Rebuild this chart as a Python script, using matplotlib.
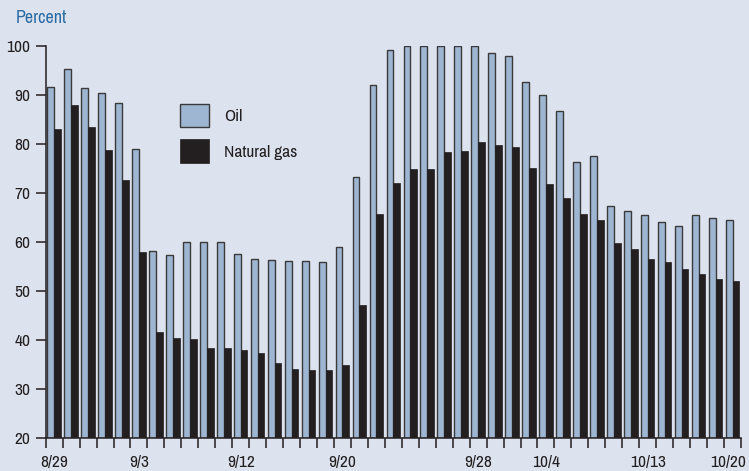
import numpy as np
import matplotlib.pyplot as plt
import matplotlib.transforms as mtransforms
from matplotlib.ticker import FixedLocator

plt.rcParams['font.family'] = ['Archivo Narrow', 'DejaVu Sans']

# share of Gulf production shut in, daily readings
oil = [91.6, 95.2, 91.4, 90.4, 88.4, 79.0, 58.2, 57.4, 60.1, 59.9,
       59.9, 57.5, 56.5, 56.3, 56.2, 56.1, 55.9, 59.0, 73.2, 91.9,
       99.1, 100.0, 100.0, 100.0, 100.0, 100.0, 98.6, 97.8, 92.7, 90.0,
       86.6, 76.2, 77.5, 67.4, 66.4, 65.4, 64.0, 63.2, 65.4, 64.8, 64.5]
gas = [83.0, 87.9, 83.4, 78.8, 72.6, 58.0, 41.6, 40.5, 40.3, 38.4,
       38.4, 38.0, 37.4, 35.4, 34.2, 34.0, 34.0, 35.0, 47.2, 65.7,
       72.0, 74.9, 74.9, 78.4, 78.6, 80.4, 79.8, 79.4, 75.1, 71.8,
       69.0, 65.7, 64.5, 59.8, 58.6, 56.6, 55.9, 54.5, 53.5, 52.5, 52.1]
label_pos = [0, 5, 11, 17, 25, 29, 35, 40]
date_labels = ['8/29', '9/3', '9/12', '9/20', '9/28', '10/4', '10/13', '10/20']

bg = '#dce3ee'
ink = '#231f20'

fig = plt.figure(figsize=(7.49, 4.71), dpi=100)
fig.patch.set_facecolor(bg)
ax = fig.add_axes([0.061, 0.0694, 0.9283, 0.8336])
ax.set_facecolor(bg)

x = np.arange(len(oil))
b1 = ax.bar(x - 0.2, np.array(oil) - 20, bottom=20, width=0.4, color='#9fb6d3',
            edgecolor='#3a3a3a', linewidth=1.0, label='Oil')
b2 = ax.bar(x + 0.2, np.array(gas) - 20, bottom=20, width=0.4, color=ink,
            edgecolor=ink, linewidth=0.5, label='Natural gas')

ax.set_xlim(-0.5, len(oil) - 0.5)
ax.set_ylim(20, 100)
ax.set_yticks([20, 30, 40, 50, 60, 70, 80, 90, 100])
ax.set_xticks(label_pos)
ax.set_xticklabels(date_labels)
ax.xaxis.set_minor_locator(FixedLocator(np.arange(-0.5, len(oil), 1.0)))

for s in ['top', 'right']:
    ax.spines[s].set_visible(False)
for s in ['left', 'bottom']:
    ax.spines[s].set_color(ink)
    ax.spines[s].set_linewidth(1.1)

ax.tick_params(axis='y', length=7, width=1.1, color=ink, labelsize=12.5,
               labelcolor=ink, pad=4)
ax.tick_params(axis='x', which='major', length=0, labelsize=12.5,
               labelcolor=ink, pad=12)
ax.tick_params(axis='x', which='minor', length=7, width=1.1, color=ink)

# last date label sits a little left so it stays inside the figure
last = ax.get_xticklabels()[-1]
last.set_transform(last.get_transform() +
                   mtransforms.ScaledTranslation(-4 / 100, 0, fig.dpi_scale_trans))

fig.text(0.021, 0.962, 'Percent', color='#2a6aa3', fontsize=13, va='center', ha='left')

ax.legend(handles=[b1, b2], loc='upper left', bbox_to_anchor=(0.193, 0.852),
          frameon=False, fontsize=12.5, handlelength=1.7, handleheight=1.7,
          handletextpad=0.85, labelspacing=0.7, borderpad=0, borderaxespad=0,
          labelcolor=ink)

fig.savefig('out.png', dpi=100, facecolor=bg)
